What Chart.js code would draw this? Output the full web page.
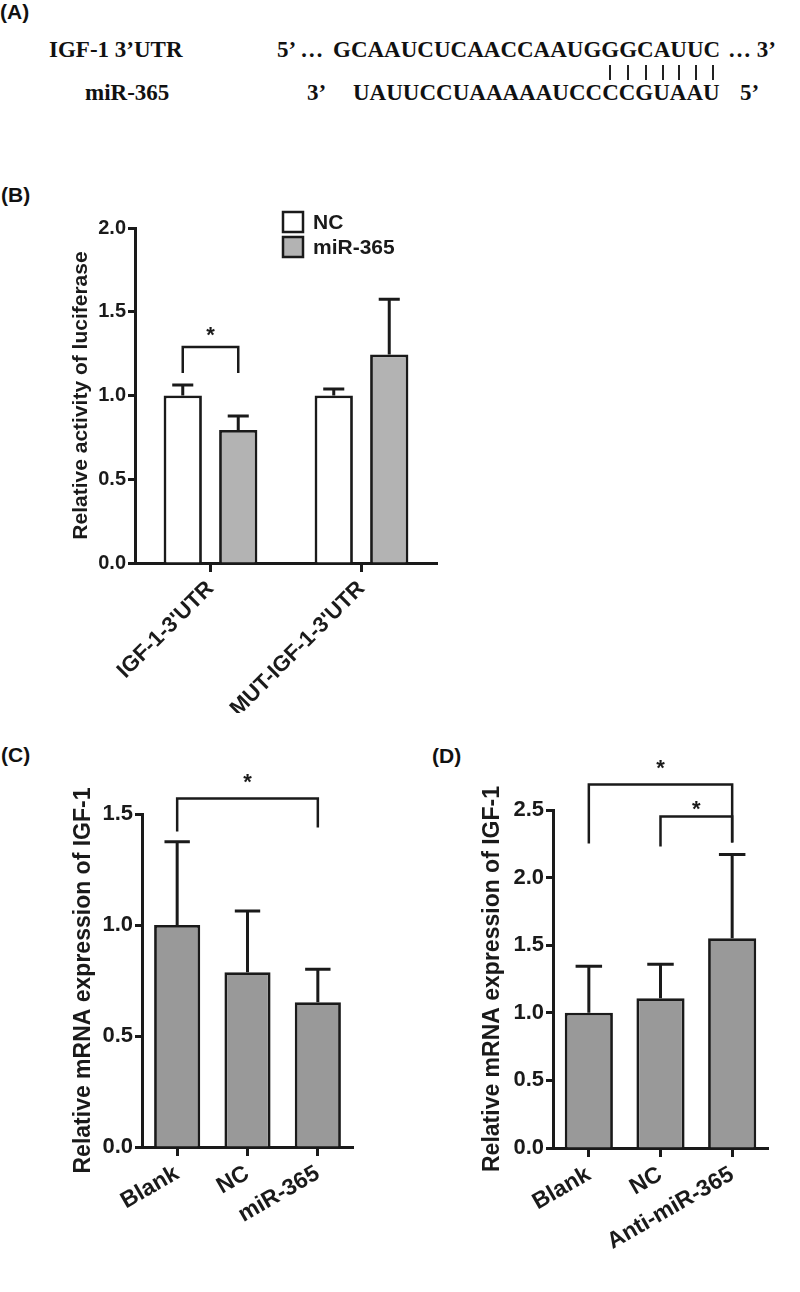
<!DOCTYPE html>
<html>
<head>
<meta charset="utf-8">
<script src="https://cdn.jsdelivr.net/npm/chart.js@4"></script>
<style>
  body { margin: 0; background: #fff; }
  #page { position: relative; width: 800px; height: 1292px; overflow: hidden; background: #fff; }
  .t { position: absolute; white-space: nowrap; line-height: 1; color: #111; }
  .serif { font-family: "Liberation Serif", "Times New Roman", serif; font-weight: bold; font-size: 23px; }
  .lab { font-family: "Liberation Sans", Arial, sans-serif; font-weight: bold; font-size: 21px; }
  .pair { position: absolute; top: 65px; width: 1.6px; height: 15px; background: #222; }
  canvas { position: absolute; }
</style>
</head>
<body>
<div id="page">
  <div class="t lab" style="left:0px;top:1px;">(A)</div>
  <div class="t serif" style="left:49px;top:38px;">IGF-1 3’UTR</div>
  <div class="t serif" style="left:277px;top:38px;">5’ …</div>
  <div class="t serif" style="left:333px;top:38px;">GCAAUCUCAACCAAUGGGCAUUC</div>
  <div class="t serif" style="left:728px;top:38px;">… 3’</div>
  <div class="pair" style="left:609px;"></div>
  <div class="pair" style="left:627px;"></div>
  <div class="pair" style="left:645px;"></div>
  <div class="pair" style="left:662px;"></div>
  <div class="pair" style="left:678px;"></div>
  <div class="pair" style="left:695px;"></div>
  <div class="pair" style="left:712px;"></div>
  <div class="t serif" style="left:85px;top:81px;">miR-365</div>
  <div class="t serif" style="left:307px;top:81px;">3’</div>
  <div class="t serif" style="left:353px;top:81px;">UAUUCCUAAAAAUCCCCGUAAU</div>
  <div class="t serif" style="left:740px;top:81px;">5’</div>

  <div class="t lab" style="left:1px;top:184px;">(B)</div>
  <div class="t lab" style="left:1px;top:744px;">(C)</div>
  <div class="t lab" style="left:432px;top:745px;">(D)</div>

  <canvas id="chartB" width="480" height="560" style="left:0px;top:180px;"></canvas>
  <canvas id="chartC" width="400" height="570" style="left:0px;top:720px;"></canvas>
  <canvas id="chartD" width="400" height="570" style="left:400px;top:720px;"></canvas>
</div>
<script>
// panel B data
var lucCategories = ["IGF-1-3'UTR", "MUT-IGF-1-3'UTR"];
var lucNC = [1.0, 1.0];
var lucNCErr = [0.063, 0.039];
var lucMiR = [0.794, 1.245];
var lucMiRErr = [0.084, 0.33];

// panel C data
var mrnaCCategories = ["Blank", "NC", "miR-365"];
var mrnaC = [1.0, 0.787, 0.652];
var mrnaCErr = [0.375, 0.276, 0.149];

// panel D data
var mrnaDCategories = ["Blank", "NC", "Anti-miR-365"];
var mrnaD = [1.0, 1.108, 1.551];
var mrnaDErr = [0.344, 0.251, 0.62];

var INK = "#1a1a1a";
Chart.defaults.font.family = "'Liberation Sans', Arial, sans-serif";
Chart.defaults.font.weight = "bold";
Chart.defaults.color = INK;

var errorBars = {
  id: "errorBars",
  afterDatasetsDraw: function(chart) {
    var ctx = chart.ctx;
    var y = chart.scales.y;
    chart.data.datasets.forEach(function(ds, di) {
      var meta = chart.getDatasetMeta(di);
      meta.data.forEach(function(bar, i) {
        var top = y.getPixelForValue(ds.data[i] + ds.errors[i]);
        var half = bar.width * 0.275;
        ctx.save();
        ctx.strokeStyle = INK;
        ctx.lineWidth = 3;
        ctx.beginPath();
        ctx.moveTo(bar.x, bar.y);
        ctx.lineTo(bar.x, top);
        ctx.moveTo(bar.x - half, top);
        ctx.lineTo(bar.x + half, top);
        ctx.stroke();
        ctx.restore();
      });
    });
  }
};

// significance brackets: [dataset, index] -> [dataset, index]
var sigBrackets = {
  id: "sigBrackets",
  afterDraw: function(chart, args, opts) {
    var ctx = chart.ctx;
    var y = chart.scales.y;
    (opts.items || []).forEach(function(b) {
      var x1 = chart.getDatasetMeta(b.from[0]).data[b.from[1]].x;
      var x2 = chart.getDatasetMeta(b.to[0]).data[b.to[1]].x;
      var yt = y.getPixelForValue(b.top);
      ctx.save();
      ctx.strokeStyle = INK;
      ctx.lineWidth = 2.5;
      ctx.beginPath();
      ctx.moveTo(x1, y.getPixelForValue(b.leftEnd));
      ctx.lineTo(x1, yt);
      ctx.lineTo(x2, yt);
      ctx.lineTo(x2, y.getPixelForValue(b.rightEnd));
      ctx.stroke();
      ctx.fillStyle = INK;
      ctx.font = "bold 22px 'Liberation Sans', Arial, sans-serif";
      ctx.textAlign = "center";
      ctx.textBaseline = "alphabetic";
      ctx.fillText("*", (x1 + x2) / 2, y.getPixelForValue(b.star) + 12);
      ctx.restore();
    });
  }
};

var boxLegend = {
  id: "boxLegend",
  afterDraw: function(chart, args, opts) {
    if (!opts.show) return;
    var ctx = chart.ctx;
    var x = chart.chartArea.left + opts.dx;
    var y0 = chart.chartArea.top + opts.dy;
    chart.data.datasets.forEach(function(ds, i) {
      var y = y0 + i * 25;
      ctx.save();
      ctx.fillStyle = ds.backgroundColor;
      ctx.fillRect(x, y, 20, 20);
      ctx.strokeStyle = INK;
      ctx.lineWidth = 2.5;
      ctx.strokeRect(x, y, 20, 20);
      ctx.fillStyle = INK;
      ctx.font = "bold 21px 'Liberation Sans', Arial, sans-serif";
      ctx.textBaseline = "middle";
      ctx.fillText(ds.label, x + 30, y + 11);
      ctx.restore();
    });
  }
};

function makeScales(maxY, titleText, titleSize, tickSize, xTickSize, yWidth, xHeight, rot) {
  return {
    x: {
      offset: true,
      grid: { offset: false, drawOnChartArea: false, drawTicks: true, tickLength: 9, tickWidth: 3, tickColor: INK },
      border: { display: true, width: 3, color: INK },
      ticks: { minRotation: rot, maxRotation: rot, autoSkip: false, padding: 4, color: INK, font: { size: xTickSize, weight: "bold" } },
      afterFit: function(s) { s.height = xHeight; }
    },
    y: {
      min: 0,
      max: maxY,
      grid: { drawOnChartArea: false, drawTicks: true, tickLength: 7, tickWidth: 3, tickColor: INK },
      border: { display: true, width: 3, color: INK },
      ticks: { stepSize: 0.5, padding: 2, color: INK, font: { size: tickSize, weight: "bold" },
        callback: function(v) { return v.toFixed(1); } },
      title: { display: true, text: titleText, color: INK, padding: 0, font: { size: titleSize, weight: "bold" } },
      afterFit: function(s) { s.width = yWidth; }
    }
  };
}

var baseOpts = {
  responsive: false,
  animation: false,
  devicePixelRatio: 1,
  events: []
};

new Chart(document.getElementById("chartB"), {
  type: "bar",
  data: {
    labels: lucCategories,
    datasets: [
      { label: "NC", data: lucNC, errors: lucNCErr, backgroundColor: "#ffffff", borderColor: INK, borderWidth: 2.8,
        categoryPercentage: 0.735, barPercentage: 0.69 },
      { label: "miR-365", data: lucMiR, errors: lucMiRErr, backgroundColor: "#b3b3b3", borderColor: INK, borderWidth: 2.8,
        categoryPercentage: 0.735, barPercentage: 0.69 }
    ]
  },
  options: Object.assign({}, baseOpts, {
    layout: { padding: { left: 69, top: 48, right: 43, bottom: 27 } },
    scales: makeScales(2.0, "Relative activity of luciferase", 21, 20, 22, 66, 150, 45),
    plugins: {
      legend: { display: false },
      tooltip: { enabled: false },
      boxLegend: { show: true, dx: 148, dy: -16 },
      sigBrackets: { items: [
        { from: [0, 0], to: [1, 0], top: 1.29, leftEnd: 1.134, rightEnd: 1.134, star: 1.391 }
      ] }
    }
  }),
  plugins: [errorBars, sigBrackets, boxLegend]
});

new Chart(document.getElementById("chartC"), {
  type: "bar",
  data: {
    labels: mrnaCCategories,
    datasets: [
      { label: "IGF-1", data: mrnaC, errors: mrnaCErr, backgroundColor: "#999999", borderColor: INK, borderWidth: 2.8,
        categoryPercentage: 0.8, barPercentage: 0.82 }
    ]
  },
  options: Object.assign({}, baseOpts, {
    layout: { padding: { left: 70, top: 94, right: 47, bottom: 13 } },
    scales: makeScales(1.5, "Relative mRNA expression of IGF-1", 23, 22, 23, 72, 130, 30),
    plugins: {
      legend: { display: false },
      tooltip: { enabled: false },
      sigBrackets: { items: [
        { from: [0, 0], to: [0, 2], top: 1.57, leftEnd: 1.421, rightEnd: 1.439, star: 1.665 }
      ] }
    }
  }),
  plugins: [errorBars, sigBrackets]
});

new Chart(document.getElementById("chartD"), {
  type: "bar",
  data: {
    labels: mrnaDCategories,
    datasets: [
      { label: "IGF-1", data: mrnaD, errors: mrnaDErr, backgroundColor: "#999999", borderColor: INK, borderWidth: 2.8,
        categoryPercentage: 0.8, barPercentage: 0.84 }
    ]
  },
  options: Object.assign({}, baseOpts, {
    layout: { padding: { left: 79, top: 90, right: 32, bottom: 12 } },
    scales: makeScales(2.5, "Relative mRNA expression of IGF-1", 23, 22, 23, 74, 130, 30),
    plugins: {
      legend: { display: false },
      tooltip: { enabled: false },
      sigBrackets: { items: [
        { from: [0, 0], to: [0, 2], top: 2.688, leftEnd: 2.253, rightEnd: 2.26, star: 2.851 },
        { from: [0, 1], to: [0, 2], top: 2.452, leftEnd: 2.23, rightEnd: 2.26, star: 2.548 }
      ] }
    }
  }),
  plugins: [errorBars, sigBrackets]
});
</script>
</body>
</html>
